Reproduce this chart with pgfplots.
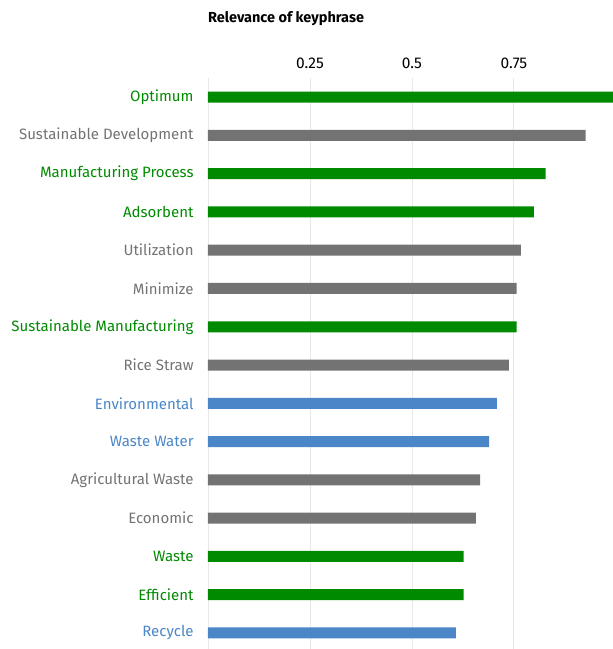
\documentclass[border=0pt]{standalone}
\usepackage{pgfplots}
\pgfplotsset{compat=1.18}
\usepackage{fontspec}
\setmainfont{Fira Sans}
\definecolor{kgreen}{RGB}{0,138,0}
\definecolor{kgrey}{RGB}{115,115,115}
\definecolor{kblue}{RGB}{74,134,200}
\definecolor{kgrid}{RGB}{232,232,232}
\begin{document}
\begin{tikzpicture}
\begin{axis}[
  scale only axis, width=405pt, height=571pt,
  xbar, bar width=11pt, bar shift=0pt,
  xmin=0, xmax=0.993,
  ymin=-0.5, ymax=14.42, y dir=reverse,
  axis line style={draw=none}, tick style={draw=none},
  xmajorgrids, grid style={kgrid, line width=0.8pt},
  xtick={0,0.25,0.5,0.75}, xticklabels={,0.25,0.5,0.75},
  xticklabel pos=upper,
  xticklabel style={anchor=base, yshift=10pt, inner sep=0pt, font=\fontsize{15.5}{17}\selectfont},
  ytick={0,...,14},
  yticklabels={
    \textcolor{kgreen}{Optimum},
    \textcolor{kgrey}{Sustainable Development},
    \textcolor{kgreen}{Manufacturing Process},
    \textcolor{kgreen}{Adsorbent},
    \textcolor{kgrey}{Utilization},
    \textcolor{kgrey}{Minimize},
    \textcolor{kgreen}{Sustainable Manufacturing},
    \textcolor{kgrey}{Rice Straw},
    \textcolor{kblue}{Environmental},
    \textcolor{kblue}{Waste Water},
    \textcolor{kgrey}{Agricultural Waste},
    \textcolor{kgrey}{Economic},
    \textcolor{kgreen}{Waste},
    \textcolor{kgreen}{Efficient},
    \textcolor{kblue}{Recycle}},
  yticklabel style={anchor=east, inner sep=0pt, xshift=-10pt, font=\fontsize{15}{17}\selectfont},
  /pgf/number format/assume math mode=true,
  title={Relevance of keyphrase},
  title style={at={(0,1)}, anchor=base west, yshift=50pt, inner sep=0pt, font=\bfseries\fontsize{14.5}{16}\selectfont},
]
\addplot[fill=kgreen, draw=none] coordinates {
  (0.993,0) (0.828,2) (0.799,3) (0.757,6) (0.627,12) (0.627,13)};
\addplot[fill=kgrey, draw=none] coordinates {
  (0.926,1) (0.767,4) (0.757,5) (0.738,7) (0.667,10) (0.657,11)};
\addplot[fill=kblue, draw=none] coordinates {
  (0.708,8) (0.689,9) (0.608,14)};
\end{axis}
\pgfresetboundingbox
\path (current axis.south west) ++(-208pt,0pt) rectangle ++(613pt,649pt);
\end{tikzpicture}
\end{document}
